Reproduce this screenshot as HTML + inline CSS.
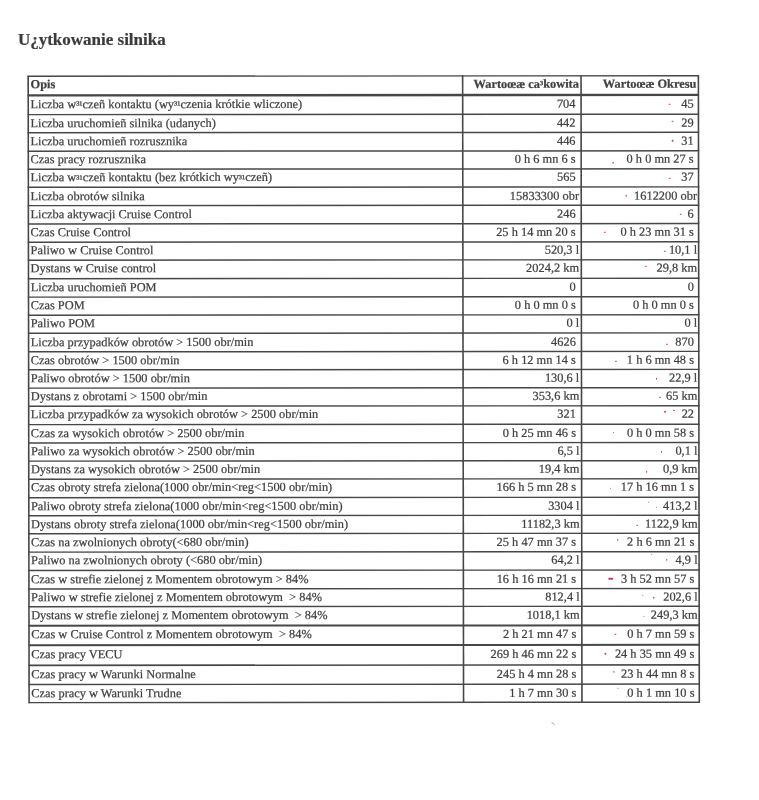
<!DOCTYPE html>
<html><head><meta charset="utf-8"><style>
html,body{margin:0;padding:0;background:#fff;}
body{width:759px;height:800px;position:relative;overflow:hidden;filter:blur(0.35px);font-family:"Liberation Serif",serif;color:#404040;}
.h{position:absolute;background:#474747;}
.v{position:absolute;background:#474747;}
.t{position:absolute;white-space:pre;font-size:12.4px;line-height:1;-webkit-text-stroke:0.22px #404040;}
.r{text-align:right;}
.b{font-weight:bold;}
.s{font-size:0.86em;position:relative;top:0.06em;}
.m{position:absolute;background:#c04058;border-radius:1px;}
</style></head><body>

<div class="t b" style="left:17.9px;top:30.55px;font-size:17px;color:#3a3a3a">U¿ytkowanie silnika</div>
<div style="position:absolute;left:0;top:0;width:759px;height:800px;transform:skewX(0.085deg) skewY(-0.04deg);transform-origin:363px 389px">
<svg style="position:absolute;left:0;top:0" width="759" height="800" viewBox="0 0 759 800"><rect x="28.00" y="75.30" width="671.50" height="1.40" fill="#474747"/><rect x="28.00" y="93.95" width="671.50" height="2.40" fill="#474747"/><rect x="28.00" y="113.68" width="671.50" height="1.45" fill="#474747"/><rect x="28.00" y="131.78" width="671.50" height="1.45" fill="#474747"/><rect x="28.00" y="150.28" width="671.50" height="1.45" fill="#474747"/><rect x="28.00" y="168.28" width="671.50" height="1.45" fill="#474747"/><rect x="28.00" y="186.38" width="671.50" height="1.45" fill="#474747"/><rect x="28.00" y="204.68" width="671.50" height="1.45" fill="#474747"/><rect x="28.00" y="223.03" width="671.50" height="1.45" fill="#474747"/><rect x="28.00" y="241.28" width="671.50" height="1.45" fill="#474747"/><rect x="28.00" y="259.27" width="671.50" height="1.45" fill="#474747"/><rect x="28.00" y="277.77" width="671.50" height="1.45" fill="#474747"/><rect x="28.00" y="296.17" width="671.50" height="1.45" fill="#474747"/><rect x="28.00" y="314.27" width="671.50" height="1.45" fill="#474747"/><rect x="28.00" y="332.38" width="671.50" height="1.45" fill="#474747"/><rect x="28.00" y="350.88" width="671.50" height="1.45" fill="#474747"/><rect x="28.00" y="368.88" width="671.50" height="1.45" fill="#474747"/><rect x="28.00" y="387.17" width="671.50" height="1.45" fill="#474747"/><rect x="28.00" y="405.27" width="671.50" height="1.45" fill="#474747"/><rect x="28.00" y="423.67" width="671.50" height="1.45" fill="#474747"/><rect x="28.00" y="442.02" width="671.50" height="1.45" fill="#474747"/><rect x="28.00" y="460.17" width="671.50" height="1.45" fill="#474747"/><rect x="28.00" y="478.27" width="671.50" height="1.45" fill="#474747"/><rect x="28.00" y="496.77" width="671.50" height="1.45" fill="#474747"/><rect x="28.00" y="514.77" width="671.50" height="1.45" fill="#474747"/><rect x="28.00" y="532.77" width="671.50" height="1.45" fill="#474747"/><rect x="28.00" y="551.17" width="671.50" height="1.45" fill="#474747"/><rect x="28.00" y="569.52" width="671.50" height="1.45" fill="#474747"/><rect x="28.00" y="588.02" width="671.50" height="1.45" fill="#474747"/><rect x="28.00" y="605.77" width="671.50" height="1.45" fill="#474747"/><rect x="28.00" y="624.50" width="671.50" height="2.00" fill="#474747"/><rect x="28.00" y="644.00" width="671.50" height="2.00" fill="#474747"/><rect x="28.00" y="664.30" width="671.50" height="1.60" fill="#474747"/><rect x="28.00" y="683.57" width="671.50" height="1.45" fill="#474747"/><rect x="28.00" y="701.67" width="671.50" height="1.45" fill="#474747"/><rect x="27.85" y="75.40" width="1.60" height="627.60" fill="#474747"/><rect x="462.30" y="75.40" width="1.60" height="627.60" fill="#474747"/><rect x="580.70" y="75.40" width="1.60" height="627.60" fill="#474747"/><rect x="698.05" y="75.40" width="1.60" height="627.60" fill="#474747"/></svg>
<div class="t b" style="left:31.00px;top:78.25px">Opis</div>
<div class="t r b" style="right:179.60px;top:78.25px">Wartoœæ ca<span class="s" style="top:-0.04em">³</span>kowita</div>
<div class="t r b" style="right:62.10px;top:78.25px">Wartoœæ Okresu</div>
<div class="t " style="left:30.80px;top:97.60px">Liczba w<span class="s">³¹</span>czeñ kontaktu (wy<span class="s">³¹</span>czenia krótkie wliczone)</div>
<div class="t r " style="right:183.10px;top:97.60px">704</div>
<div class="t r " style="right:65.00px;top:97.60px">45</div>
<div class="t " style="left:30.80px;top:116.85px">Liczba uruchomieñ silnika (udanych)</div>
<div class="t r " style="right:183.10px;top:116.85px">442</div>
<div class="t r " style="right:65.00px;top:116.85px">29</div>
<div class="t " style="left:30.80px;top:134.95px">Liczba uruchomieñ rozrusznika</div>
<div class="t r " style="right:183.10px;top:134.95px">446</div>
<div class="t r " style="right:65.00px;top:134.95px">31</div>
<div class="t " style="left:30.80px;top:153.45px">Czas pracy rozrusznika</div>
<div class="t r " style="right:183.10px;top:153.45px">0 h 6 mn 6 s</div>
<div class="t r " style="right:65.00px;top:153.45px">0 h 0 mn 27 s</div>
<div class="t " style="left:30.80px;top:171.45px">Liczba w<span class="s">³¹</span>czeñ kontaktu (bez krótkich wy<span class="s">³¹</span>czeñ)</div>
<div class="t r " style="right:183.10px;top:171.45px">565</div>
<div class="t r " style="right:65.00px;top:171.45px">37</div>
<div class="t " style="left:30.80px;top:189.55px">Liczba obrotów silnika</div>
<div class="t r " style="right:179.70px;top:189.55px">15833300 obr</div>
<div class="t r " style="right:61.70px;top:189.55px">1612200 obr</div>
<div class="t " style="left:30.80px;top:207.85px">Liczba aktywacji Cruise Control</div>
<div class="t r " style="right:183.10px;top:207.85px">246</div>
<div class="t r " style="right:65.00px;top:207.85px">6</div>
<div class="t " style="left:30.80px;top:226.20px">Czas Cruise Control</div>
<div class="t r " style="right:183.10px;top:226.20px">25 h 14 mn 20 s</div>
<div class="t r " style="right:65.00px;top:226.20px">0 h 23 mn 31 s</div>
<div class="t " style="left:30.80px;top:244.45px">Paliwo w Cruise Control</div>
<div class="t r " style="right:179.70px;top:244.45px">520,3 l</div>
<div class="t r " style="right:61.70px;top:244.45px">10,1 l</div>
<div class="t " style="left:30.80px;top:262.45px">Dystans w Cruise control</div>
<div class="t r " style="right:179.70px;top:262.45px">2024,2 km</div>
<div class="t r " style="right:61.70px;top:262.45px">29,8 km</div>
<div class="t " style="left:30.80px;top:280.95px">Liczba uruchomieñ POM</div>
<div class="t r " style="right:183.10px;top:280.95px">0</div>
<div class="t r " style="right:65.00px;top:280.95px">0</div>
<div class="t " style="left:30.80px;top:299.35px">Czas POM</div>
<div class="t r " style="right:183.10px;top:299.35px">0 h 0 mn 0 s</div>
<div class="t r " style="right:65.00px;top:299.35px">0 h 0 mn 0 s</div>
<div class="t " style="left:30.80px;top:317.45px">Paliwo POM</div>
<div class="t r " style="right:179.70px;top:317.45px">0 l</div>
<div class="t r " style="right:61.70px;top:317.45px">0 l</div>
<div class="t " style="left:30.80px;top:335.55px">Liczba przypadków obrotów &gt; 1500 obr/min</div>
<div class="t r " style="right:183.10px;top:335.55px">4626</div>
<div class="t r " style="right:65.00px;top:335.55px">870</div>
<div class="t " style="left:30.80px;top:354.05px">Czas obrotów &gt; 1500 obr/min</div>
<div class="t r " style="right:183.10px;top:354.05px">6 h 12 mn 14 s</div>
<div class="t r " style="right:65.00px;top:354.05px">1 h 6 mn 48 s</div>
<div class="t " style="left:30.80px;top:372.05px">Paliwo obrotów &gt; 1500 obr/min</div>
<div class="t r " style="right:179.70px;top:372.05px">130,6 l</div>
<div class="t r " style="right:61.70px;top:372.05px">22,9 l</div>
<div class="t " style="left:30.80px;top:390.35px">Dystans z obrotami &gt; 1500 obr/min</div>
<div class="t r " style="right:179.70px;top:390.35px">353,6 km</div>
<div class="t r " style="right:61.70px;top:390.35px">65 km</div>
<div class="t " style="left:30.80px;top:408.45px">Liczba przypadków za wysokich obrotów &gt; 2500 obr/min</div>
<div class="t r " style="right:183.10px;top:408.45px">321</div>
<div class="t r " style="right:65.00px;top:408.45px">22</div>
<div class="t " style="left:30.80px;top:426.85px">Czas za wysokich obrotów &gt; 2500 obr/min</div>
<div class="t r " style="right:183.10px;top:426.85px">0 h 25 mn 46 s</div>
<div class="t r " style="right:65.00px;top:426.85px">0 h 0 mn 58 s</div>
<div class="t " style="left:30.80px;top:445.20px">Paliwo za wysokich obrotów &gt; 2500 obr/min</div>
<div class="t r " style="right:179.70px;top:445.20px">6,5 l</div>
<div class="t r " style="right:61.70px;top:445.20px">0,1 l</div>
<div class="t " style="left:30.80px;top:463.35px">Dystans za wysokich obrotów &gt; 2500 obr/min</div>
<div class="t r " style="right:179.70px;top:463.35px">19,4 km</div>
<div class="t r " style="right:61.70px;top:463.35px">0,9 km</div>
<div class="t " style="left:30.80px;top:481.45px">Czas obroty strefa zielona(1000 obr/min&lt;reg&lt;1500 obr/min)</div>
<div class="t r " style="right:183.10px;top:481.45px">166 h 5 mn 28 s</div>
<div class="t r " style="right:65.00px;top:481.45px">17 h 16 mn 1 s</div>
<div class="t " style="left:30.80px;top:499.95px">Paliwo obroty strefa zielona(1000 obr/min&lt;reg&lt;1500 obr/min)</div>
<div class="t r " style="right:179.70px;top:499.95px">3304 l</div>
<div class="t r " style="right:61.70px;top:499.95px">413,2 l</div>
<div class="t " style="left:30.80px;top:517.95px">Dystans obroty strefa zielona(1000 obr/min&lt;reg&lt;1500 obr/min)</div>
<div class="t r " style="right:179.70px;top:517.95px">11182,3 km</div>
<div class="t r " style="right:61.70px;top:517.95px">1122,9 km</div>
<div class="t " style="left:30.80px;top:535.95px">Czas na zwolnionych obroty(&lt;680 obr/min)</div>
<div class="t r " style="right:183.10px;top:535.95px">25 h 47 mn 37 s</div>
<div class="t r " style="right:65.00px;top:535.95px">2 h 6 mn 21 s</div>
<div class="t " style="left:30.80px;top:554.35px">Paliwo na zwolnionych obroty (&lt;680 obr/min)</div>
<div class="t r " style="right:179.70px;top:554.35px">64,2 l</div>
<div class="t r " style="right:61.70px;top:554.35px">4,9 l</div>
<div class="t " style="left:30.80px;top:572.70px">Czas w strefie zielonej z Momentem obrotowym &gt; 84%</div>
<div class="t r " style="right:183.10px;top:572.70px">16 h 16 mn 21 s</div>
<div class="t r " style="right:65.00px;top:572.70px">3 h 52 mn 57 s</div>
<div class="t " style="left:30.80px;top:591.20px">Paliwo w strefie zielonej z Momentem obrotowym&nbsp; &gt; 84%</div>
<div class="t r " style="right:179.70px;top:591.20px">812,4 l</div>
<div class="t r " style="right:61.70px;top:591.20px">202,6 l</div>
<div class="t " style="left:30.80px;top:608.95px">Dystans w strefie zielonej z Momentem obrotowym&nbsp; &gt; 84%</div>
<div class="t r " style="right:179.70px;top:608.95px">1018,1 km</div>
<div class="t r " style="right:61.70px;top:608.95px">249,3 km</div>
<div class="t " style="left:30.80px;top:627.95px">Czas w Cruise Control z Momentem obrotowym&nbsp; &gt; 84%</div>
<div class="t r " style="right:183.10px;top:627.95px">2 h 21 mn 47 s</div>
<div class="t r " style="right:65.00px;top:627.95px">0 h 7 mn 59 s</div>
<div class="t " style="left:30.80px;top:648.45px">Czas pracy VECU</div>
<div class="t r " style="right:183.10px;top:648.45px">269 h 46 mn 22 s</div>
<div class="t r " style="right:65.00px;top:648.45px">24 h 35 mn 49 s</div>
<div class="t " style="left:30.80px;top:667.55px">Czas pracy w Warunki Normalne</div>
<div class="t r " style="right:183.10px;top:667.55px">245 h 4 mn 28 s</div>
<div class="t r " style="right:65.00px;top:667.55px">23 h 44 mn 8 s</div>
<div class="t " style="left:30.80px;top:686.75px">Czas pracy w Warunki Trudne</div>
<div class="t r " style="right:183.10px;top:686.75px">1 h 7 mn 30 s</div>
<div class="t r " style="right:65.00px;top:686.75px">0 h 1 mn 10 s</div>
<div class="m" style="left:669.0px;top:104.2px;width:2.2px;height:1.2px"></div>
<div class="m" style="left:672.2px;top:120.9px;width:1.5px;height:1.2px"></div>
<div class="m" style="left:672.4px;top:140.4px;width:2.0px;height:1.2px"></div>
<div class="m" style="left:612.8px;top:162.3px;width:1.5px;height:1.5px"></div>
<div class="m" style="left:668.5px;top:178.3px;width:2.0px;height:1.2px"></div>
<div class="m" style="left:626.0px;top:195.3px;width:1.4px;height:1.4px"></div>
<div class="m" style="left:680.4px;top:213.9px;width:1.8px;height:1.2px"></div>
<div class="m" style="left:604.4px;top:231.7px;width:1.3px;height:1.3px"></div>
<div class="m" style="left:663.8px;top:250.7px;width:2.2px;height:1.4px"></div>
<div class="m" style="left:645.4px;top:265.8px;width:1.3px;height:1.3px"></div>
<div class="m" style="left:665.8px;top:343.9px;width:2.0px;height:1.5px"></div>
<div class="m" style="left:615.4px;top:361.2px;width:1.3px;height:1.3px"></div>
<div class="m" style="left:655.9px;top:378.4px;width:1.5px;height:1.3px"></div>
<div class="m" style="left:659.1px;top:396.7px;width:1.8px;height:1.4px"></div>
<div class="m" style="left:664.2px;top:411.4px;width:1.4px;height:1.3px"></div>
<div class="m" style="left:673.4px;top:410.0px;width:1.2px;height:1.2px"></div>
<div class="m" style="left:612.8px;top:431.7px;width:1.5px;height:1.4px"></div>
<div class="m" style="left:660.9px;top:451.4px;width:1.5px;height:1.5px"></div>
<div class="m" style="left:645.6px;top:471.1px;width:1.5px;height:1.5px"></div>
<div class="m" style="left:609.5px;top:487.7px;width:1.5px;height:1.4px"></div>
<div class="m" style="left:659.6px;top:485.8px;width:1.3px;height:1.3px"></div>
<div class="m" style="left:647.8px;top:502.2px;width:1.3px;height:1.3px"></div>
<div class="m" style="left:656.0px;top:506.9px;width:1.3px;height:1.3px"></div>
<div class="m" style="left:636.1px;top:524.6px;width:1.5px;height:1.4px"></div>
<div class="m" style="left:616.6px;top:539.4px;width:1.5px;height:1.4px"></div>
<div class="m" style="left:651.1px;top:554.2px;width:1.3px;height:1.3px"></div>
<div class="m" style="left:666.1px;top:559.2px;width:1.4px;height:1.4px"></div>
<div class="m" style="left:608.0px;top:578.3px;width:4.5px;height:1.6px"></div>
<div class="m" style="left:642.1px;top:594.6px;width:1.3px;height:1.3px"></div>
<div class="m" style="left:653.1px;top:597.4px;width:1.3px;height:1.3px"></div>
<div class="m" style="left:642.8px;top:616.0px;width:1.5px;height:1.4px"></div>
<div class="m" style="left:614.0px;top:633.5px;width:1.6px;height:1.4px"></div>
<div class="m" style="left:604.2px;top:653.2px;width:1.5px;height:1.4px"></div>
<div class="m" style="left:612.5px;top:671.3px;width:1.4px;height:1.4px"></div>
<div class="m" style="left:616.6px;top:687.8px;width:1.5px;height:1.5px"></div>
<div class="m" style="left:625.6px;top:696.1px;width:1.3px;height:1.3px"></div>
</div>
<div style="position:absolute;left:550.5px;top:723px;width:4px;height:1.3px;background:#b0b0b0;transform:rotate(35deg);border-radius:1px"></div>
</body></html>
